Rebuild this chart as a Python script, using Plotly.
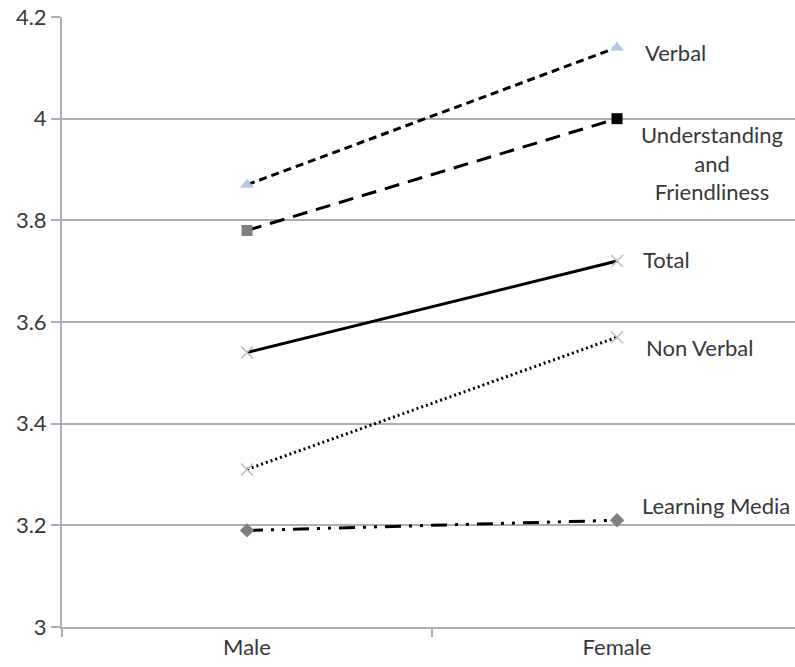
import plotly.graph_objects as go

categories = ["Male", "Female"]
verbal = [3.87, 4.14]
understanding = [3.78, 4.00]
total = [3.54, 3.72]
non_verbal = [3.31, 3.57]
learning_media = [3.19, 3.21]

y_ticks = [3, 3.2, 3.4, 3.6, 3.8, 4, 4.2]
y_ticktext = ["3", "3.2", "3.4", "3.6", "3.8", "4", "4.2"]

FONT = "Lato"
TXT = "#383838"
GRID = "#A8B0BA"

fig = go.Figure()

fig.add_trace(go.Scatter(
    x=categories, y=verbal, mode="lines+markers",
    line=dict(color="black", width=3, dash="8px,5px"),
    marker=dict(symbol="triangle-up", size=12, color="#B4C8E0"),
))
fig.add_trace(go.Scatter(
    x=categories, y=understanding, mode="lines+markers",
    line=dict(color="black", width=3, dash="15px,9px"),
    marker=dict(symbol="square", size=11, color=["#7F7F7F", "#000000"]),
))
fig.add_trace(go.Scatter(
    x=categories, y=total, mode="lines+markers",
    line=dict(color="black", width=3),
    marker=dict(symbol="x-thin", size=12, line=dict(color="#B8BEC6", width=1.5)),
))
fig.add_trace(go.Scatter(
    x=categories, y=non_verbal, mode="lines+markers",
    line=dict(color="black", width=3, dash="2px,3px"),
    marker=dict(symbol="x-thin", size=12, line=dict(color="#B8BEC6", width=1.5)),
))
fig.add_trace(go.Scatter(
    x=categories, y=learning_media, mode="lines+markers",
    line=dict(color="black", width=3, dash="16px,8px,3px,8px,3px,8px"),
    marker=dict(symbol="diamond", size=11, color="#7F7F7F"),
))

labels = [
    ("Verbal", 1.070, 4.131, "left"),
    ("Understanding<br>and<br>Friendliness", 1.257, 3.913, "center"),
    ("Total", 1.065, 3.722, "left"),
    ("Non Verbal", 1.073, 3.549, "left"),
    ("Learning Media", 1.062, 3.240, "left"),
]
for text, x, y, anchor in labels:
    fig.add_annotation(
        x=x, y=y, xref="x", yref="y", text=text, showarrow=False,
        xanchor=anchor, yanchor="middle", align="center",
        font=dict(family=FONT, size=22, color=TXT),
    )

fig.update_layout(
    width=795, height=667,
    margin=dict(l=62, r=0, t=17, b=40),
    paper_bgcolor="white", plot_bgcolor="white",
    showlegend=False,
    font=dict(family=FONT, size=22, color=TXT),
)
fig.update_xaxes(
    type="category", range=[-0.5, 1.481],
    tickson="boundaries", ticks="outside", ticklen=8, tickcolor=GRID, tickwidth=2,
    showgrid=False, showline=True, linecolor=GRID, linewidth=2,
    tickfont=dict(family=FONT, size=22, color=TXT),
)
fig.update_yaxes(
    range=[3, 4.2], tickvals=y_ticks, ticktext=y_ticktext,
    ticks="outside", ticklen=9, tickcolor=GRID, tickwidth=2,
    showgrid=True, gridcolor=GRID, gridwidth=2,
    showline=True, linecolor=GRID, linewidth=2, zeroline=False,
    tickfont=dict(family=FONT, size=22, color=TXT),
    ticklabelstandoff=0,
)

fig.write_html("out.html")
